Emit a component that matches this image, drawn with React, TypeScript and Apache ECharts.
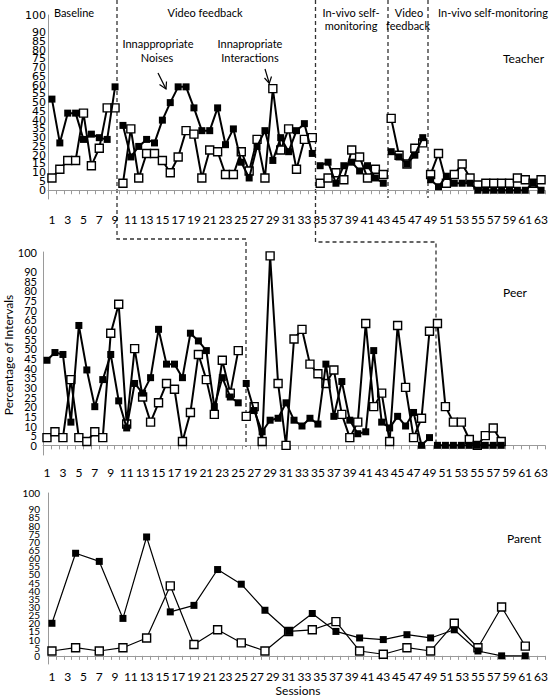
import React, { useEffect, useRef } from 'react';
import * as echarts from 'echarts';

const sessions = Array.from({ length: 63 }, (_, i) => String(i + 1));

// Teacher (filled = inappropriate noises, open = inappropriate interactions)
const teacherNoises = [52, 27, 44, 44, 29, 32, 30, 29, 59,
  37, 19, 25, 29, 27, 40, 50, 59, 59, 47, 34, 34, 47, 26, 35, 16, 7, 25, 34, 17, 30, 22, 34, 38, 21,
  14, 16, 4, 14, 16, 11, 14, 7, 4,
  22, 19, 15, 20, 30,
  6, 2, 8, 4, 4, 4, 0, 0, 0, 0, 0, 0, 0, 4, 0];
const teacherInteractions = [7, 12, 17, 17, 44, 14, 24, 47, 47,
  4, 35, 7, 21, 21, 17, 10, 19, 34, 32, 7, 23, 22, 9, 9, 22, 11, 29, 7, 58, 23, 35, 12, 29, 30,
  4, 7, 10, 6, 23, 19, 7, 12, 9,
  41, 20, 15, 24, 27,
  9, 21, 4, 9, 15, 7, 3, 4, 4, 4, 4, 7, 6, 4, 6];
const teacherPhaseStarts = [1, 10, 35, 44, 49];

// Peer
const peerNoises = [44, 48, 47, 12, 62, 39, 20, 34, 47, 23, 9, 32, 27, 35, 60, 42, 42, 35, 58, 54, 49, 20, 35, 25, 22,
  32, 18, 7, 13, 14, 22, 13, 10, 14, 11, 42, 15, 33, 13, 6, 7, 49, 12, 9, 15, 10, 17, 0, 4,
  0, 0, 0, 0, 0, 0, 0, 0, 0];
const peerInteractions = [4, 7, 4, 34, 4, 2, 7, 4, 58, 73, 11, 50, 25, 12, 22, 32, 29, 2, 17, 47, 34, 16, 44, 27, 49,
  15, 20, 2, 98, 32, 0, 55, 60, 42, 37, 32, 39, 16, 4, 12, 63, 20, 27, 2, 62, 30, 4, 14, 59,
  63, 20, 12, 12, 3, 0, 5, 9, 2];
const peerPhaseStarts = [1, 26, 50];

// Parent
const parentSessions = [1, 4, 7, 10, 13, 16, 19, 22, 25, 28, 31, 34, 37, 40, 43, 46, 49, 52, 55, 58, 61];
const parentNoises = [20, 63, 58, 23, 73, 27, 31, 53, 44, 28, 15, 26, 15, 11, 10, 13, 11, 16, 3, 0, 0];
const parentInteractions = [3, 5, 3, 5, 11, 43, 7, 16, 8, 3, 15, 16, 21, 3, 1, 5, 3, 20, 5, 30, 6];

const FONT = 'Lato, "Noto Sans", sans-serif';

function phaseSeries(values: number[], starts: number[], gridIdx: number, filled: boolean, lw: number, size: number) {
  const out: any[] = [];
  starts.forEach((st, k) => {
    const end = k + 1 < starts.length ? starts[k + 1] - 1 : values.length;
    const data = values.map((v, i) => (i + 1 >= st && i + 1 <= end ? v : null));
    out.push(makeLine(data, gridIdx, filled, lw, size));
  });
  return out;
}

function makeLine(data: any[], gridIdx: number, filled: boolean, lw: number, size: number) {
  return {
    type: 'line',
    xAxisIndex: gridIdx,
    yAxisIndex: gridIdx,
    data,
    symbol: 'rect',
    symbolSize: filled ? size : size + 1,
    showSymbol: true,
    showAllSymbol: true,
    silent: true,
    z: filled ? 3 : 2,
    lineStyle: { color: '#000', width: lw },
    itemStyle: filled
      ? { color: '#000', borderColor: '#000', borderWidth: 0 }
      : { color: '#fff', borderColor: '#000', borderWidth: 1.4 },
    emphasis: { disabled: true },
  };
}

function xAx(gridIndex: number, margin: number) {
  return {
    type: 'category',
    gridIndex,
    data: sessions,
    boundaryGap: true,
    axisLine: { show: true, lineStyle: { color: '#9a9a9a', width: 1 } },
    axisTick: { show: true, interval: 0, length: 4, lineStyle: { color: '#9a9a9a' } },
    axisLabel: { interval: 1, margin, color: '#000', fontSize: 12, fontFamily: FONT },
  };
}

function yAx(gridIndex: number, margin: number, fontSize: number, fontFamily: string) {
  return {
    type: 'value',
    gridIndex,
    min: -5,
    max: 100,
    interval: 5,
    axisLine: { show: true, lineStyle: { color: '#9a9a9a', width: 1 } },
    axisTick: { show: false },
    splitLine: { show: false },
    axisLabel: {
      margin,
      color: '#000',
      fontSize,
      fontFamily,
      showMaxLabel: true,
      showMinLabel: true,
      hideOverlap: false,
      formatter: (v: number) => (v < 0 ? '' : String(v)),
    },
  };
}

function txt(text: string, x: number, y: number, align = 'center', size = 11, rotation = 0) {
  return {
    type: 'text',
    x,
    y,
    rotation,
    silent: true,
    style: { text, fill: '#000', font: `${size}px ${FONT}`, textAlign: align, textVerticalAlign: 'middle' },
  };
}

function dash(points: number[][]) {
  return {
    type: 'polyline',
    silent: true,
    shape: { points },
    style: { stroke: '#333', lineWidth: 1.3, lineDash: [4, 3], fill: 'none' },
  };
}

function seg(points: number[][], w = 1.2) {
  return {
    type: 'polyline',
    silent: true,
    shape: { points },
    style: { stroke: '#000', lineWidth: w, fill: 'none' },
  };
}

const option: any = {
  animation: false,
  backgroundColor: '#fff',
  grid: [
    { left: 48, top: 15, width: 499, height: 184 },
    { left: 43, top: 252, width: 504, height: 203 },
    { left: 48, top: 493, width: 499, height: 171 },
  ],
  xAxis: [xAx(0, 14), xAx(1, 11), xAx(2, 6)],
  yAxis: [
    yAx(0, 2, 11, '"DejaVu Sans", sans-serif'),
    yAx(1, 6, 11, FONT),
    yAx(2, 8, 10, FONT),
  ],
  series: [
    ...phaseSeries(teacherInteractions, teacherPhaseStarts, 0, false, 2, 7),
    ...phaseSeries(teacherNoises, teacherPhaseStarts, 0, true, 2, 7),
    ...phaseSeries(peerInteractions, peerPhaseStarts, 1, false, 2, 7),
    ...phaseSeries(peerNoises, peerPhaseStarts, 1, true, 2, 7),
    makeLine(parentSessions.map((s, i) => [s - 1, parentInteractions[i]]), 2, false, 1.2, 7),
    makeLine(parentSessions.map((s, i) => [s - 1, parentNoises[i]]), 2, true, 1.2, 7),
  ],
  graphic: [
    dash([[117, 0], [117, 239], [246, 239], [246, 447]]),
    dash([[315.5, 0], [315.5, 242], [436, 242], [436, 447]]),
    dash([[388, 0], [388, 198]]),
    dash([[428, 0], [428, 198]]),
    txt('Baseline', 74, 12),
    txt('Video feedback', 205, 12),
    txt('In-vivo self-', 351, 12),
    txt('monitoring', 351, 25),
    txt('Video', 409, 12),
    txt('feedback', 408, 25),
    txt('In-vivo self-monitoring', 493, 12),
    txt('Innappropriate', 158, 43),
    txt('Noises', 157, 57),
    txt('Innapropriate', 250, 43),
    txt('Interactions', 250, 57),
    seg([[158, 73], [166, 89]]),
    seg([[159.5, 84.5], [166, 89], [166.5, 81.5]]),
    seg([[265, 69], [269.3, 83.3]]),
    seg([[264.5, 78], [269.3, 83.3], [271.5, 76.5]]),
    txt('Teacher', 503, 58, 'left', 12),
    txt('Peer', 503, 292, 'left', 12),
    txt('Parent', 507, 538, 'left', 12),
    txt('Percentage of Intervals', 8, 355, 'center', 12, Math.PI / 2),
    txt('Sessions', 298, 690, 'center', 12),
  ],
};

export default function App() {
  const ref = useRef<HTMLDivElement>(null);
  useEffect(() => {
    const chart = echarts.init(ref.current!, null, { renderer: 'svg' });
    chart.setOption(option);
    return () => chart.dispose();
  }, []);
  return <div ref={ref} style={{ position: 'absolute', left: 0, top: 0, width: 551, height: 697 }} />;
}
